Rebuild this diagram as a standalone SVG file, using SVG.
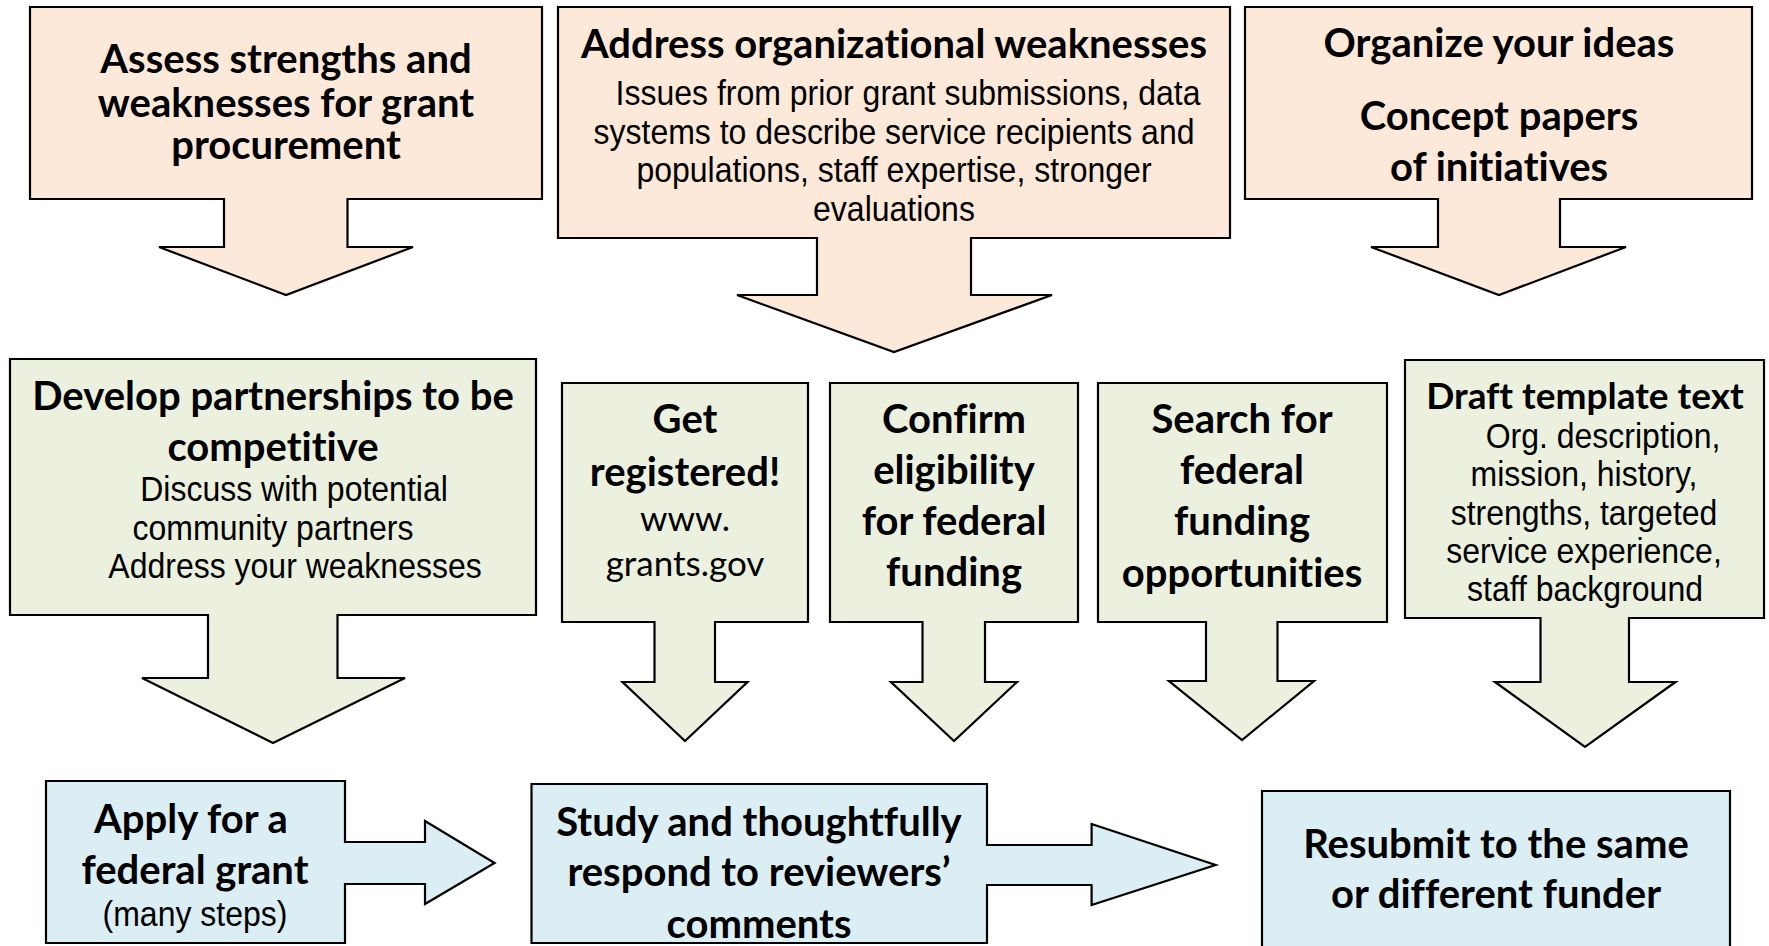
<svg xmlns="http://www.w3.org/2000/svg" width="1769" height="946" viewBox="0 0 1769 946">
<style>
.shape{stroke:#000;stroke-width:2.2;stroke-linejoin:miter}
.peach{fill:#FDE9D9}
.green{fill:#EBF1DE}
.blue{fill:#DBEEF4}
text{font-variant-ligatures:none;font-feature-settings:"liga" 0,"clig" 0}
.b{font-family:Lato,"Open Sans",sans-serif;font-weight:700;font-size:40px;fill:#000;text-anchor:middle}
.r{font-family:"Liberation Sans",Arial,sans-serif;font-size:32px;fill:#000;text-anchor:middle}
.c{font-family:Lato,"Open Sans",sans-serif;font-size:35px;fill:#000;text-anchor:middle}
</style>
<rect width="1769" height="946" fill="#fff"/>
<g id="connectors"/>
<g id="assess">
<path class="shape peach" d="M30,7 H542 V199 H347.5 V247 H413 L286,295 L159,247 H224 V199 H30 Z"/>
<text class="b" x="286" y="73">Assess strengths and</text>
<text class="b" x="286" y="117">weaknesses for grant</text>
<text class="b" x="286" y="159">procurement</text>
</g>
<g id="address">
<path class="shape peach" d="M558,7 H1230 V238 H971 V295 H1052 L894,352 L737,295 H817 V238 H558 Z"/>
<text class="b" x="894" y="58">Address organizational weaknesses</text>
<text class="r" transform="translate(908 105) scale(1 1.1)">Issues from prior grant submissions, data</text>
<text class="r" transform="translate(894 143.5) scale(1 1.1)">systems to describe service recipients and</text>
<text class="r" transform="translate(894 182) scale(1 1.1)">populations, staff expertise, stronger</text>
<text class="r" transform="translate(894 221) scale(1 1.1)">evaluations</text>
</g>
<g id="organize">
<path class="shape peach" d="M1245,7 H1752 V199 H1560 V247 H1626 L1499,295 L1371,247 H1438 V199 H1245 Z"/>
<text class="b" x="1499" y="57">Organize your ideas</text>
<text class="b" x="1499" y="130">Concept papers</text>
<text class="b" x="1499" y="181">of initiatives</text>
</g>
<g id="partnerships">
<path class="shape green" d="M10,359 H536 V615 H337.5 V678 H405 L273,743 L142,678 H208 V615 H10 Z"/>
<text class="b" x="273" y="410">Develop partnerships to be</text>
<text class="b" x="273" y="461">competitive</text>
<text class="r" transform="translate(294 501) scale(1 1.1)">Discuss with potential</text>
<text class="r" transform="translate(273 540) scale(1 1.1)">community partners</text>
<text class="r" transform="translate(295 578) scale(1 1.1)">Address your weaknesses</text>
</g>
<g id="register">
<path class="shape green" d="M562,383 H808 V622 H715 V682 H747.5 L685,741 L622.5,682 H654.5 V622 H562 Z"/>
<text class="b" x="685" y="433">Get</text>
<text class="b" x="685" y="486">registered!</text>
<text class="c" x="685" y="531">www.</text>
<text class="c" x="685" y="576">grants.gov</text>
</g>
<g id="eligibility">
<path class="shape green" d="M830,383 H1078 V622 H985 V682 H1017 L954,741 L891,682 H922.5 V622 H830 Z"/>
<text class="b" x="954" y="433">Confirm</text>
<text class="b" x="954" y="484">eligibility</text>
<text class="b" x="954" y="535">for federal</text>
<text class="b" x="954" y="586">funding</text>
</g>
<g id="search">
<path class="shape green" d="M1098,383 H1387 V622 H1277.5 V681 H1314 L1242,740 L1169,681 H1206 V622 H1098 Z"/>
<text class="b" x="1242" y="433">Search for</text>
<text class="b" x="1242" y="484">federal</text>
<text class="b" x="1242" y="535">funding</text>
<text class="b" x="1242" y="587">opportunities</text>
</g>
<g id="draft">
<path class="shape green" d="M1405,360 H1764 V618 H1629 V682 H1675.5 L1585,747 L1495,682 H1540.5 V618 H1405 Z"/>
<text class="b" x="1585" y="409" style="font-size:37px">Draft template text</text>
<text class="r" transform="translate(1603 448) scale(1 1.1)">Org. description,</text>
<text class="r" transform="translate(1584 486) scale(1 1.1)">mission, history,</text>
<text class="r" transform="translate(1584 525) scale(1 1.1)">strengths, targeted</text>
<text class="r" transform="translate(1584 563) scale(1 1.1)">service experience,</text>
<text class="r" transform="translate(1585 601) scale(1 1.1)">staff background</text>
</g>
<g id="apply">
<path class="shape blue" d="M46,781 H345 V842 H425 V821 L494.6,863 L425,904 V884 H345 V943 H46 Z"/>
<text class="b" x="191" y="833">Apply for a</text>
<text class="b" x="195" y="884">federal grant</text>
<text class="r" transform="translate(195 926) scale(1 1.1)">(many steps)</text>
</g>
<g id="respond">
<path class="shape blue" d="M531.5,784 H987 V845 H1091.6 V824 L1215.6,865 L1091.6,905 V885 H987 V943 H531.5 Z"/>
<text class="b" x="759" y="836">Study and thoughtfully</text>
<text class="b" x="759" y="886">respond to reviewers’</text>
<text class="b" x="759" y="938">comments</text>
</g>
<g id="resubmit">
<path class="shape blue" d="M1262,952 V791 H1730 V952"/>
<text class="b" x="1496" y="858">Resubmit to the same</text>
<text class="b" x="1496" y="908">or different funder</text>
</g>
</svg>
